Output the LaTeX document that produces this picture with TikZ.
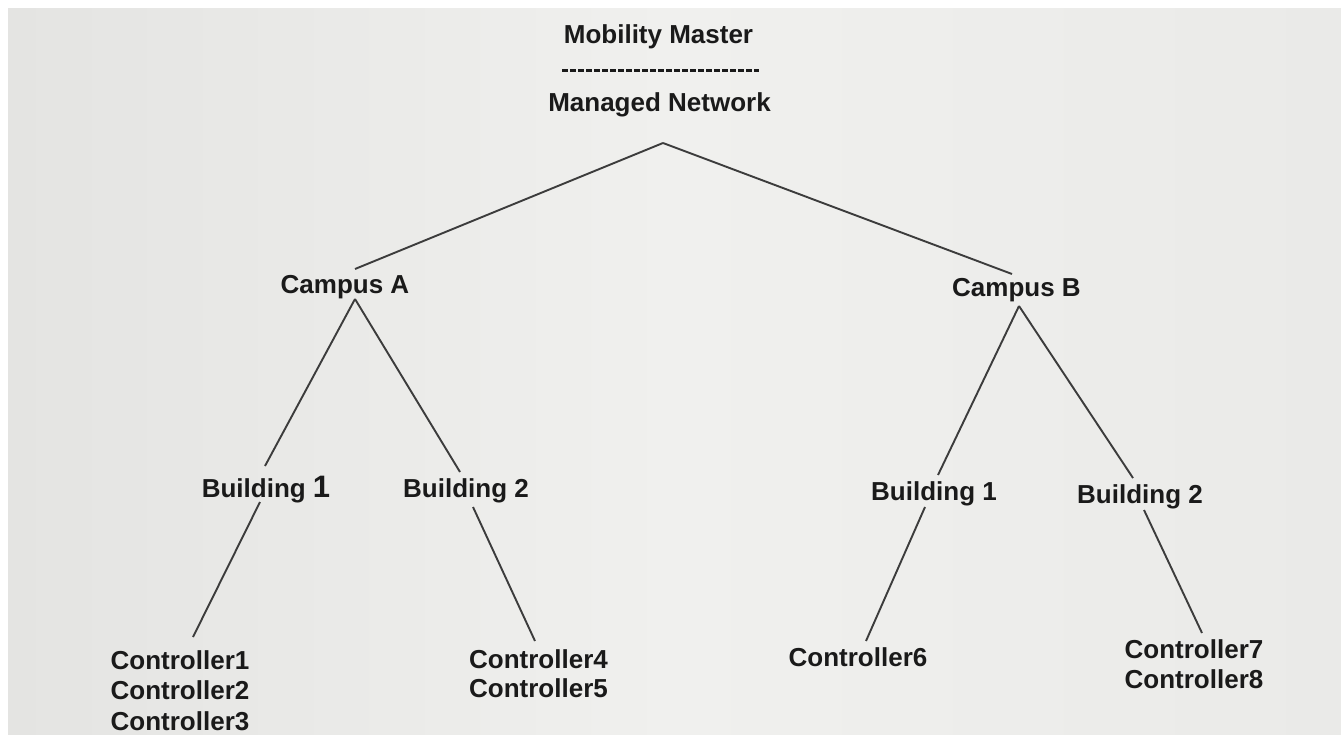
\documentclass[tikz,border=0pt]{standalone}
\usepackage{fontspec}
\setmainfont{Liberation Sans}
\definecolor{bgA}{HTML}{E4E4E2}
\definecolor{bgB}{HTML}{F0F0EE}
\definecolor{ink}{HTML}{1A1A1A}
\definecolor{wirecol}{HTML}{3C3C3C}
\begin{document}
\begin{tikzpicture}[x=1pt,y=-1pt,
  lbl/.style={font=\fontsize{26}{30.5}\selectfont\bfseries, text=ink, inner sep=0pt, anchor=base, align=center},
  lbltop/.style={lbl, anchor=north},
  wire/.style={draw=wirecol, line width=1.9pt},
  dashrule/.style={draw=ink, line width=3pt, dash pattern=on 5.8pt off 2.2pt}]
\useasboundingbox (0,0) rectangle (1341,735);
\fill[white] (0,0) rectangle (1341,735);
\shade[left color=bgA, right color=bgA!50!bgB, middle color=bgB] (8,9) rectangle (1341,735);

% top
\node[lbl] (mm) at (658.5,44) {Mobility Master};
\draw[dashrule] ([shift={(-96.5,27)}]mm.base) -- ([shift={(100.5,27)}]mm.base);
\node[lbl] (mn) at (659.5,112) {Managed Network};
\coordinate (apex) at ([shift={(3.5,31)}]mn.base);

% campuses
\node[lbl] (campA) at (345,294) {Campus A};
\node[lbl] (campB) at (1016.5,297) {Campus B};

% buildings
\node[lbl] (b1a) at (266,497) {Building {\fontsize{31}{31}\selectfont 1}};
\node[lbl] (b2a) at (466,497) {Building 2};
\node[lbl] (b1b) at (934,500) {Building 1};
\node[lbl] (b2b) at (1140,503) {Building 2};

% controllers
\node[lbltop, font=\fontsize{26}{30.5}\selectfont\bfseries] (c13) at (180,650) {Controller1\\Controller2\\Controller3};
\node[lbltop, font=\fontsize{26}{29.5}\selectfont\bfseries] (c45) at (538.5,649) {Controller4\\Controller5};
\node[lbl] (c6) at (858,666) {Controller6};
\node[lbltop, font=\fontsize{26}{30}\selectfont\bfseries] (c78) at (1194,639) {Controller7\\Controller8};

% connectors
\draw[wire] (apex) -- ([shift={(10,-25)}]campA.base);
\draw[wire] (apex) -- ([shift={(-4.5,-23)}]campB.base);

\draw[wire] ([shift={(10,5)}]campA.base) -- ([shift={(-1,-31)}]b1a.base);
\draw[wire] ([shift={(10,5)}]campA.base) -- ([shift={(-6,-25)}]b2a.base);
\draw[wire] ([shift={(2.5,9)}]campB.base) -- ([shift={(4,-25)}]b1b.base);
\draw[wire] ([shift={(2.5,9)}]campB.base) -- ([shift={(-7,-25)}]b2b.base);

\draw[wire] ([shift={(-6,5)}]b1a.base) -- ([shift={(13,-13)}]c13.north);
\draw[wire] ([shift={(7,10)}]b2a.base) -- ([shift={(-3.5,-8)}]c45.north);
\draw[wire] ([shift={(-9,7)}]b1b.base) -- ([shift={(8,-25)}]c6.base);
\draw[wire] ([shift={(4,7)}]b2b.base) -- ([shift={(8,-6)}]c78.north);
\end{tikzpicture}
\end{document}
